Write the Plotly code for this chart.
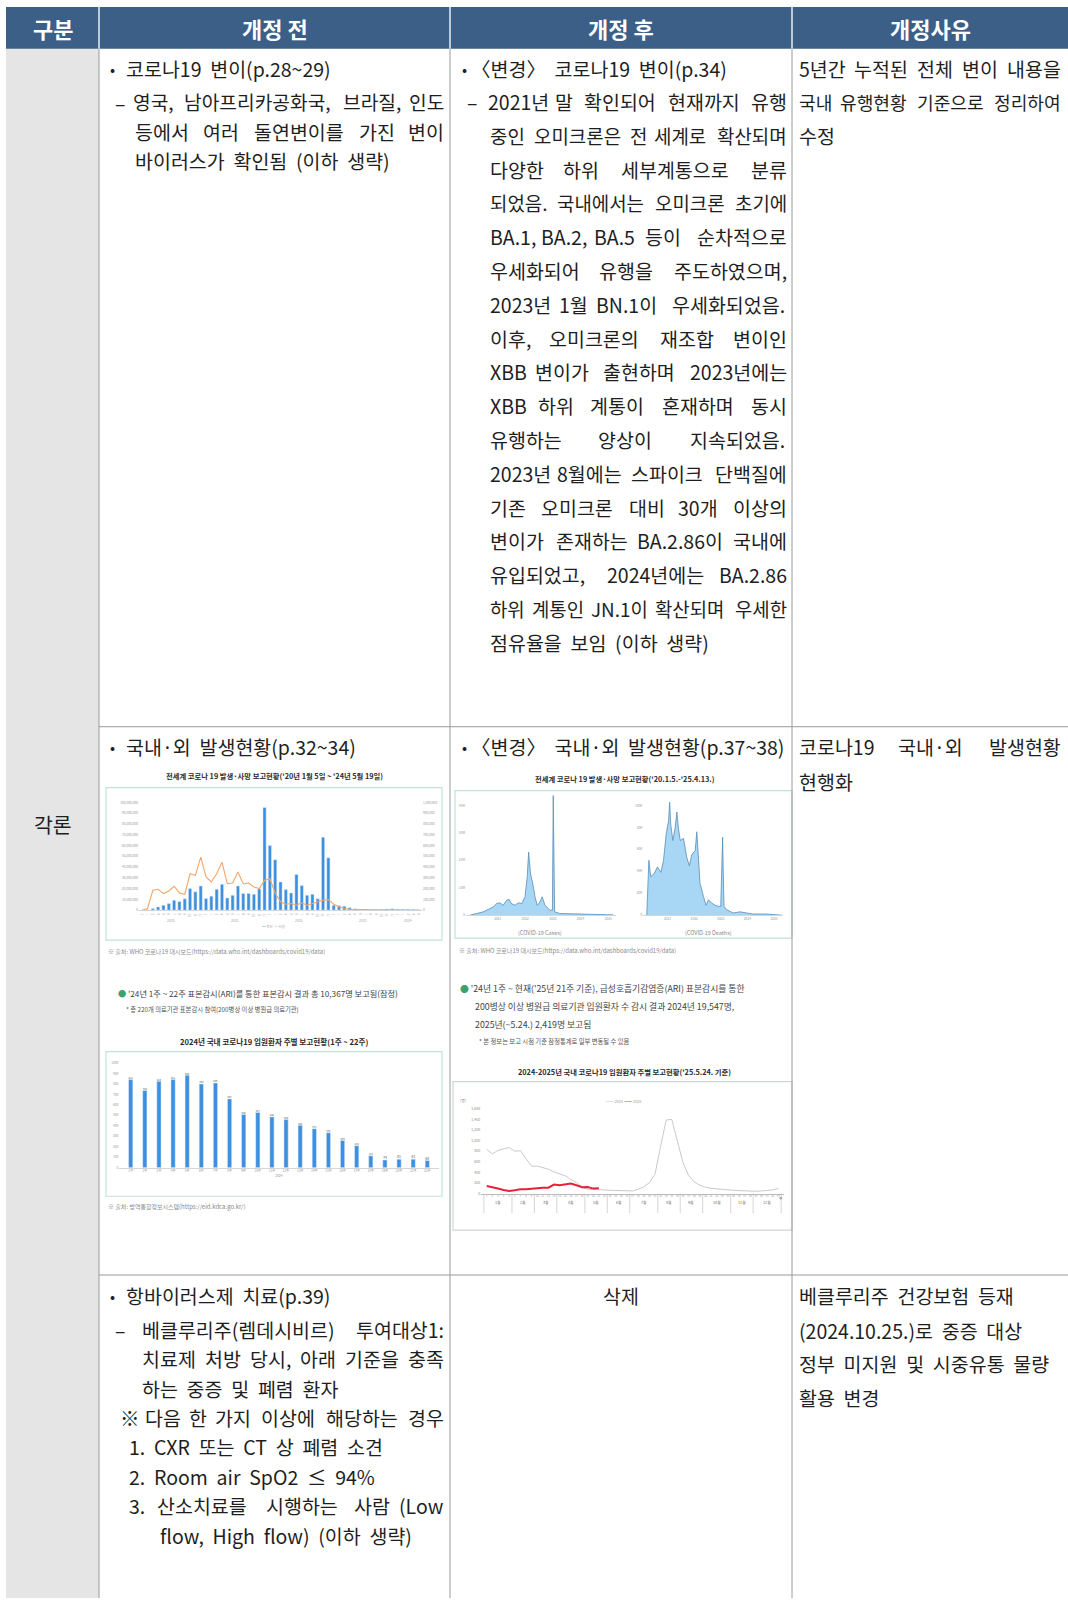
import plotly.graph_objects as go

W, H = 1068, 1600
FONT = "Noto Sans CJK KR"
TXT = "#1e1e1e"

# ---------------- data ----------------
# Chart A: worldwide monthly cases (millions, bars) and deaths (thousands, line), Jan 2020 - May 2024
a_cases = [0, 0.3, 1.5, 3.0, 4.6, 6.2, 9.2, 8.0, 10.5, 20.0, 17.0, 22.5, 10.8, 13.0, 19.4, 24.0, 11.4,
           13.8, 22.5, 15.4, 15.4, 14.8, 19.7, 95.4, 60.0, 46.8, 26.2, 19.1, 16.0, 33.2, 22.8, 13.8, 14.8,
           10.5, 67.7, 48.6, 4.6, 4.0, 3.7, 2.2, 1.2, 0.9, 0.8, 0.7, 0.6, 0.6, 1.0, 1.2, 0.8, 0.6, 0.5, 0.4, 0.3]
a_deaths = [0, 15, 185, 194, 154, 178, 222, 160, 148, 338, 323, 492, 308, 262, 338, 446, 246, 252, 354,
            246, 252, 215, 200, 277, 292, 160, 77, 55, 62, 46, 68, 46, 62, 77, 92, 98, 55, 31, 15, 9, 6,
            5, 5, 4, 4, 4, 5, 6, 5, 4, 3, 3, 2]
a_month_labels = ["1", "2", "3", "4", "5", "6", "7", "8", "9", "10", "11", "12"] * 4 + ["1", "2", "3", "4", "5"]
a_years = ["2020", "2021", "2022", "2023", "2024"]
a_left_ticks = [0, 10, 20, 30, 40, 50, 60, 70, 80, 90, 100]
a_left_labels = ["0", "10,000,000", "20,000,000", "30,000,000", "40,000,000", "50,000,000",
                 "60,000,000", "70,000,000", "80,000,000", "90,000,000", "100,000,000"]
a_right_ticks = [0, 100, 200, 300, 400, 500, 600, 700, 800, 900, 1000]
a_right_labels = ["0", "100,000", "200,000", "300,000", "400,000", "500,000", "600,000",
                  "700,000", "800,000", "900,000", "1,000,000"]

# Chart B: weekly cases (millions) / deaths (thousands), read as (year, value)
b_case_t = [2020.0, 2020.48, 2020.84, 2020.96, 2021.08, 2021.2, 2021.33, 2021.42, 2021.5, 2021.63,
            2021.75, 2021.87, 2021.99, 2022.07, 2022.12, 2022.19, 2022.27, 2022.35, 2022.43, 2022.53,
            2022.61, 2022.71, 2022.89, 2022.98, 2023.01, 2023.06, 2023.25, 2024.1, 2025.18]
b_case_v = [0, 1.2, 3.0, 4.2, 4.5, 3.6, 5.5, 5.7, 4.2, 3.6, 4.5, 4.2, 6.7, 14, 23.0, 15, 11.5, 6.7,
            3.6, 4.8, 6.7, 3.6, 1.8, 1.8, 43.6, 1.2, 0.6, 0.4, 0.1]
b_death_t = [2020.22, 2020.30, 2020.37, 2020.5, 2020.62, 2020.75, 2020.85, 2020.95, 2021.04, 2021.08,
             2021.12, 2021.2, 2021.29, 2021.35, 2021.41, 2021.48, 2021.6, 2021.72, 2021.82, 2021.91,
             2022.04, 2022.1, 2022.16, 2022.22, 2022.35, 2022.45, 2022.54, 2022.66, 2022.79, 2022.91,
             2023.0, 2023.07, 2023.12, 2023.22, 2023.47, 2023.72, 2023.97, 2024.22, 2024.72, 2025.29]
b_death_v = [0, 50, 35, 38, 44, 39, 50, 74, 86, 103, 83, 68, 80, 94, 79, 68, 70, 53, 45, 55, 59, 76,
             53, 29, 17, 9, 14, 11, 9, 8, 8, 71, 8, 5, 2, 3, 2, 1, 1, 0]
b_year_ticks = [2021, 2022, 2023, 2024, 2025]
b_year_labels = ["2021", "2022", "2023", "2024", "2025"]

# Chart C: 2024 weekly hospitalised (weeks 1-22)
c_weeks = ["1주", "2주", "3주", "4주", "5주", "6주", "7주", "8주", "9주", "10주", "11주", "12주",
           "13주", "14주", "15주", "16주", "17주", "18주", "19주", "20주", "21주", "22주"]
c_values = [841, 738, 825, 841, 883, 799, 809, 657, 508, 527, 485, 459, 404, 372, 333, 259, 210,
            113, 74, 81, 81, 68]
c_ticks = [0, 100, 200, 300, 400, 500, 600, 700, 800, 900, 1000]

# Chart D: weekly hospitalised 2024 (53 weeks) and 2025 (21 weeks)
d_weeks = list(range(1, 54))
d_2024 = [835, 750, 815, 840, 870, 800, 810, 660, 515, 520, 490, 460, 410, 375, 335, 265, 210, 120,
          80, 80, 78, 70, 62, 58, 55, 52, 50, 81, 125, 206, 362, 894, 1390, 1400, 1010, 581, 340, 219,
          156, 119, 100, 88, 78, 70, 62, 56, 50, 47, 44, 50, 56, 70, 95]
d_2025 = [144, 125, 94, 69, 50, 62, 81, 81, 94, 106, 112, 112, 169, 156, 175, 188, 156, 119, 125, 94, 100]
d_months = ["1월", "2월", "3월", "4월", "5월", "6월", "7월", "8월", "9월", "10월", "11월", "12월"]
d_month_start = [1, 6, 10, 14, 19, 23, 27, 32, 36, 40, 45, 49, 54]
d_ticks = [0, 200, 400, 600, 800, 1000, 1200, 1400, 1600]
d_tick_labels = ["0", "200", "400", "600", "800", "1,000", "1,200", "1,400", "1,600"]

# ---------------- helpers ----------------
def X(p):
    return p / W


def Y(p):
    return 1 - p / H


annotations = []
shapes = []


def add_text(x, y, s, size=20, anchor="left", color=TXT, weight=400):
    annotations.append(dict(x=X(x), y=Y(y), xref="paper", yref="paper", text=s,
                            showarrow=False, xanchor=anchor, yanchor="middle",
                            font=dict(family=FONT, size=size, color=color, weight=weight)))


def add_rect(x0, y0, x1, y1, fill="rgba(0,0,0,0)", line="rgba(0,0,0,0)", lw=0, layer="below"):
    shapes.append(dict(type="rect", xref="paper", yref="paper", x0=X(x0), x1=X(x1), y0=Y(y1), y1=Y(y0),
                       fillcolor=fill, line=dict(color=line, width=lw), layer=layer))


def add_line(x0, y0, x1, y1, color="#9a9a9a", lw=1):
    shapes.append(dict(type="line", xref="paper", yref="paper", x0=X(x0), x1=X(x1), y0=Y(y0), y1=Y(y1),
                       line=dict(color=color, width=lw), layer="above"))


def char_w(ch):
    o = ord(ch)
    if 0xAC00 <= o <= 0xD7A3 or 0x3000 <= o <= 0x318F or ch in "※〈〉·•–":
        return 1.0
    if ch.isdigit():
        return 0.55
    if ch in ".,:;":
        return 0.25
    if ch in "()":
        return 0.33
    if ch in "il":
        return 0.23
    if ch in "fjt":
        return 0.32
    if ch == "r":
        return 0.36
    if ch == "w":
        return 0.74
    if ch == "m":
        return 0.84
    if ch == "I":
        return 0.28
    if ch in "MW":
        return 0.86
    if ch.isupper():
        return 0.63
    if ch.islower():
        return 0.53
    if ch == "%":
        return 0.85
    if ch == "≤":
        return 0.7
    return 0.55


def word_w(w, fs):
    return sum(char_w(c) for c in w) * fs


FS = 19.5


def line_text(x0, x1, y, s, fs=FS, justify=True):
    """Lay a line out word by word so that it spans x0..x1 like the justified original."""
    words = s.split()
    if len(words) == 1 or not justify:
        add_text(x0, y, "  ".join(words), fs)
        return
    avail = x1 - x0
    natural = sum(word_w(w, fs) for w in words) + 0.22 * fs * (len(words) - 1)
    if natural > avail:
        fs = fs * avail / natural
    widths = [word_w(w, fs) for w in words]
    gap = (avail - sum(widths)) / (len(words) - 1)
    pos = x0
    for i, (w, ww) in enumerate(zip(words, widths)):
        if i == 0:
            add_text(x0, y, w, fs, anchor="left")
        elif i == len(words) - 1:
            add_text(x1, y, w, fs, anchor="right")
        else:
            add_text(pos + ww / 2, y, w, fs, anchor="center")
        pos += ww + gap


# ---------------- table frame ----------------
add_rect(6, 46, 99, 1600, fill="#e5e5e5")
add_rect(6, 4, 1068, 46, fill="#3b5f87")
for xx in (99, 450, 792):
    add_line(xx, 4, xx, 46, color="#e8eef5", lw=1.5)
    add_line(xx, 46, xx, 1600, color="#9a9a9a", lw=1)
for yy in (726, 1276):
    add_line(99, yy, 1068, yy, color="#9a9a9a", lw=1)

HDR = dict(size=22, anchor="center", color="white", weight=700)
add_text(52.5, 25, "구분", **HDR)
add_text(274.5, 25, "개정 전", **HDR)
add_text(621, 25, "개정 후", **HDR)
add_text(930, 25, "개정사유", **HDR)

add_text(53, 824, "각론", size=20.5, anchor="center")

C2R = 446      # right text edge, column 2
C3R = 788.5    # right text edge, column 3
C4R = 1063     # right text edge, column 4
BUL = 15

# Row 1
add_text(112.7, 65.5, "•", BUL, anchor="center")
line_text(124, 350, 65.5, "코로나19 변이(p.28~29)", justify=False)
add_text(120.4, 99.5, "–", FS, anchor="center")
line_text(130.6, C2R, 99.5, "영국, 남아프리카공화국, 브라질, 인도")
line_text(132.6, C2R, 128.8, "등에서 여러 돌연변이를 가진 변이")
line_text(132.6, 399, 158, "바이러스가 확인됨 (이하 생략)", justify=False)

add_text(464, 65.3, "•", BUL, anchor="center")
line_text(469, 733.5, 65.3, "〈변경〉 코로나19 변이(p.34)", justify=False)
add_text(472.3, 98.9, "–", FS, anchor="center")
col3_lines = [
    ("2021년 말 확인되어 현재까지 유행", C3R),
    ("중인 오미크론은 전 세계로 확산되며", C3R),
    ("다양한 하위 세부계통으로 분류", C3R),
    ("되었음. 국내에서는 오미크론 초기에", C3R),
    ("BA.1, BA.2, BA.5 등이 순차적으로", C3R),
    ("우세화되어 유행을 주도하였으며,", C3R),
    ("2023년 1월 BN.1이 우세화되었음.", 786.5),
    ("이후, 오미크론의 재조합 변이인", C3R),
    ("XBB 변이가 출현하며 2023년에는", C3R),
    ("XBB 하위 계통이 혼재하며 동시", C3R),
    ("유행하는 양상이 지속되었음.", 786.5),
    ("2023년 8월에는 스파이크 단백질에", C3R),
    ("기존 오미크론 대비 30개 이상의", C3R),
    ("변이가 존재하는 BA.2.86이 국내에", C3R),
    ("유입되었고, 2024년에는 BA.2.86", C3R),
    ("하위 계통인 JN.1이 확산되며 우세한", C3R),
]
for i, (s, xr) in enumerate(col3_lines):
    line_text(485.6 if i == 0 else 487.6, xr, 98.9 + 33.9 * i, s)
line_text(487.6, 723, 98.9 + 33.9 * len(col3_lines), "점유율을 보임 (이하 생략)", justify=False)

line_text(797, C4R, 65.3, "5년간 누적된 전체 변이 내용을")
line_text(797, C4R, 98.9, "국내 유행현황 기준으로 정리하여")
line_text(797, C4R, 132.6, "수정")

# Row 2
add_text(112.7, 746, "•", BUL, anchor="center")
line_text(124, 374.4, 746, "국내·외 발생현황(p.32~34)", justify=False)
add_text(464, 746, "•", BUL, anchor="center")
line_text(469, 774.3, 746, "〈변경〉 국내·외 발생현황(p.37~38)", justify=False)
line_text(797, C4R, 746, "코로나19 국내·외 발생현황")
line_text(797, C4R, 781, "현행화")

# Row 3
add_text(112.7, 1296.5, "•", BUL, anchor="center")
line_text(124, 348, 1296.5, "항바이러스제 치료(p.39)", justify=False)
add_text(120.4, 1330.2, "–", FS, anchor="center")
line_text(139.8, C2R, 1330.2, "베클루리주(렘데시비르) 투여대상1:")
line_text(139.8, C2R, 1359.8, "치료제 처방 당시, 아래 기준을 충족")
line_text(139.8, 336.6, 1389.4, "하는 중증 및 폐렴 환자", justify=False)
line_text(118.3, C2R, 1419, "※ 다음 한 가지 이상에 해당하는 경우")
line_text(126.5, 414, 1448.5, "1. CXR 또는 CT 상 폐렴 소견", justify=False)
line_text(126.5, 400, 1478.1, "2. Room air SpO2 ≤ 94%", justify=False)
line_text(126.5, C2R, 1507.6, "3. 산소치료를 시행하는 사람 (Low")
line_text(158, 436.6, 1537.3, "flow, High flow) (이하 생략)", justify=False)

add_text(621, 1296.5, "삭제", FS, anchor="center")

line_text(797, 1030, 1296.5, "베클루리주 건강보험 등재", justify=False)
line_text(797, 1046.6, 1331.3, "(2024.10.25.)로 중증 대상", justify=False)
line_text(797, 1057, 1364.9, "정부 미지원 및 시중유통 물량", justify=False)
line_text(797, 884.4, 1398.6, "활용 변경", justify=False)

# ---------------- mini charts ----------------
TITLE_C = "#2b2b2b"
BLUE = "#3d8fe0"
ORANGE = "#f2a66a"

fig = go.Figure()

# Chart A
add_rect(106, 787, 442, 940, line="#bfe3d6", lw=1.2)
add_text(274, 775, "전세계 코로나 19 발생·사망 보고현황('20년 1월 5일 ~ '24년 5월 19일)", 7.3,
         anchor="center", color=TITLE_C, weight=700)
add_text(106, 951, "※ 출처: WHO 코로나19 대시보드(https://data.who.int/dashboards/covid19/data)", 6,
         color="#8a8a8a")
idx = list(range(len(a_cases)))
fig.add_trace(go.Bar(x=idx, y=a_cases, marker_color=BLUE, width=0.6, xaxis="x", yaxis="y"))
fig.add_trace(go.Scatter(x=idx, y=a_deaths, mode="lines", line=dict(color=ORANGE, width=1.1),
                         xaxis="x", yaxis="y2"))
year_first = [0, 12, 24, 36, 48]
year_last = [11, 23, 35, 47, 52]
for yl, f, l in zip(a_years, year_first, year_last):
    annotations.append(dict(x=(f + l) / 2, y=Y(920), xref="x", yref="paper", text=yl, showarrow=False,
                            font=dict(family=FONT, size=3.5, color="#aaa")))
add_text(274, 926, "<span style='color:#3d8fe0'>━</span> 확진  <span style='color:#f2a66a'>━</span> 사망",
         3.5, anchor="center", color="#aaa")

# Chart B
add_rect(455, 790, 792, 938, line="#bfe3d6", lw=1.2)
add_text(625, 778, "전세계 코로나 19 발생·사망 보고현황('20.1.5.-'25.4.13.)", 7.3, anchor="center",
         color=TITLE_C, weight=700)
fig.add_trace(go.Scatter(x=b_case_t, y=b_case_v, mode="lines", fill="tozeroy", fillcolor="#a8d6f5",
                         line=dict(color="#5b8db5", width=0.8), xaxis="x3", yaxis="y3"))
fig.add_trace(go.Scatter(x=b_death_t, y=b_death_v, mode="lines", fill="tozeroy", fillcolor="#a8d6f5",
                         line=dict(color="#5b8db5", width=0.8), xaxis="x4", yaxis="y4"))
add_text(540, 933, "(COVID-19 Cases)", 5.5, anchor="center", color="#888")
add_text(708, 933, "(COVID-19 Deaths)", 5.5, anchor="center", color="#888")
add_text(457, 950, "※ 출처: WHO 코로나19 대시보드(https://data.who.int/dashboards/covid19/data)", 6,
         color="#8a8a8a")

# Chart C
add_rect(106, 1052, 442, 1197, line="#bfe3d6", lw=1.2)
add_text(116, 993, "<span style='color:#3aa36a'>●</span> '24년 1주 ~ 22주 표본감시(ARI)를 통한 표본감시 결과 총 10,367명 보고됨(잠정)",
         8.2, color="#444")
add_text(124, 1010, "* 총 220개 의료기관 표본감시 참여(200병상 이상 병원급 의료기관)", 6.3, color="#555")
add_text(274, 1042, "2024년 국내 코로나19 입원환자 주별 보고현황(1주 ~ 22주)", 7.6, anchor="center",
         color=TITLE_C, weight=700)
fig.add_trace(go.Bar(x=c_weeks, y=c_values, marker_color=BLUE, width=0.3, text=c_values,
                     textposition="outside", textfont=dict(size=3.5, color="#555", family=FONT),
                     cliponaxis=False, xaxis="x5", yaxis="y5"))
add_text(106, 1207, "※ 출처: 방역통합정보시스템(https://eid.kdca.go.kr/)", 6, color="#8a8a8a")

# Chart D
add_rect(453, 1082, 792, 1231, line="#cfd6d3", lw=1.2)
add_text(458, 989, "<span style='color:#3aa36a'>●</span> '24년 1주 ~ 현재('25년 21주 기준), 급성호흡기감염증(ARI) 표본감시를 통한",
         8.8, color="#444")
add_text(473, 1007, "200병상 이상 병원급 의료기관 입원환자 수 감시 결과 2024년 19,547명,", 8.8, color="#444")
add_text(473, 1025, "2025년(~5.24.) 2,419명 보고됨", 8.8, color="#444")
add_text(477, 1042, "* 본 정보는 보고 시점 기준 잠정통계로 일부 변동될 수 있음", 6.3, color="#555")
add_text(624, 1072, "2024-2025년 국내 코로나19 입원환자 주별 보고현황('25.5.24. 기준)", 7.3, anchor="center",
         color=TITLE_C, weight=700)
fig.add_trace(go.Scatter(x=d_weeks, y=d_2024, mode="lines", line=dict(color="#c9c9c9", width=1),
                         xaxis="x6", yaxis="y6"))
fig.add_trace(go.Scatter(x=d_weeks[:len(d_2025)], y=d_2025, mode="lines",
                         line=dict(color="#e8203a", width=2), xaxis="x6", yaxis="y6"))
add_text(623, 1101.5, "<span style='color:#c9c9c9'>━━</span> 2024  <span style='color:#e8203a'>━━</span> 2025",
         3.8, anchor="center", color="#999")
add_text(463, 1100.5, "(명)", 3.8, anchor="center", color="#777")
for ms in d_month_start:
    shapes.append(dict(type="line", xref="x6", yref="paper", x0=ms - 0.5, x1=ms - 0.5, y0=Y(1194.3),
                       y1=Y(1214), line=dict(color="#bbbbbb", width=0.6)))
for m, s0, s1 in zip(d_months, d_month_start[:-1], d_month_start[1:]):
    annotations.append(dict(x=(s0 + s1 - 1) / 2, y=Y(1208), xref="x6", yref="paper", text=m,
                            showarrow=False, font=dict(family=FONT, size=3.8, color="#777")))
add_text(781, 1199, "주", 3.8, anchor="center", color="#777")

# ---------------- axes ----------------
tiny = dict(family=FONT, size=3.2, color="#9a9a9a")
base = dict(showgrid=False, zeroline=False, fixedrange=True, ticks="", tickfont=tiny)

layout_axes = dict(
    xaxis=dict(base, domain=[X(139), X(422)], range=[-0.6, 52.6], anchor="y", tickvals=idx,
               ticktext=a_month_labels, showline=True, linecolor="#d5d5d5", linewidth=0.6),
    yaxis=dict(base, domain=[Y(910), Y(802)], range=[0, 100], anchor="x", tickvals=a_left_ticks,
               ticktext=a_left_labels),
    yaxis2=dict(base, overlaying="y", side="right", range=[0, 1000], anchor="x",
                tickvals=a_right_ticks, ticktext=a_right_labels),
    xaxis3=dict(base, domain=[X(466), X(616)], range=[2019.855, 2025.28], anchor="y3",
                tickvals=b_year_ticks, ticktext=b_year_labels, showline=True, linecolor="#d5d5d5",
                linewidth=0.6),
    yaxis3=dict(base, domain=[Y(915), Y(793)], range=[0, 44.36], anchor="x3",
                tickvals=[0, 10, 20, 30, 40], ticktext=["0", "10M", "20M", "30M", "40M"]),
    xaxis4=dict(base, domain=[X(643.3), X(783.3)], range=[2020.09, 2025.35], anchor="y4",
                tickvals=b_year_ticks, ticktext=b_year_labels, showline=True, linecolor="#d5d5d5",
                linewidth=0.6),
    yaxis4=dict(base, domain=[Y(915), Y(793)], range=[0, 110.9], anchor="x4",
                tickvals=[0, 20, 40, 60, 80, 100], ticktext=["0", "20K", "40K", "60K", "80K", "100K"]),
    xaxis5=dict(base, domain=[X(119.4), X(438.6)], range=[-0.8, 21.8], anchor="y5", type="category",
                showline=True, linecolor="#d5d5d5", linewidth=0.6,
                title=dict(text="2024", font=dict(family=FONT, size=3.2, color="#9a9a9a"), standoff=2)),
    yaxis5=dict(base, domain=[Y(1168.3), Y(1063.3)], range=[0, 1000], anchor="x5", tickvals=c_ticks),
    xaxis6=dict(base, domain=[X(481.1), X(784.0)], range=[0, 54], anchor="y6", tickvals=d_weeks,
                tickfont=dict(family=FONT, size=2.6, color="#9a9a9a"), showline=True,
                linecolor="#bbbbbb", linewidth=0.6),
    yaxis6=dict(base, domain=[Y(1194.3), Y(1109.3)], range=[0, 1600], anchor="x6", tickvals=d_ticks,
                ticktext=d_tick_labels, tickfont=dict(family=FONT, size=3.5, color="#8a8a8a")),
)

fig.update_layout(
    width=W, height=H, margin=dict(l=0, r=0, t=0, b=0, pad=0),
    paper_bgcolor="white", plot_bgcolor="rgba(0,0,0,0)", showlegend=False,
    font=dict(family=FONT, color=TXT),
    annotations=annotations, shapes=shapes, bargap=0.3,
    **layout_axes,
)

fig.write_html("out.html", config={"displayModeBar": False},
               post_script="document.body.style.margin='0';document.body.style.overflow='hidden';")
